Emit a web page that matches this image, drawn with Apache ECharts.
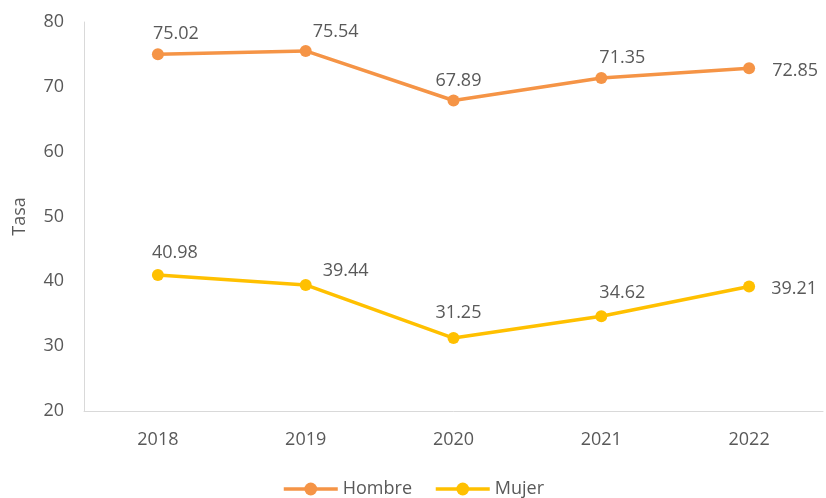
<!DOCTYPE html>
<html>
<head>
<meta charset="utf-8">
<script src="https://cdn.jsdelivr.net/npm/echarts@6/dist/echarts.min.js"></script>
<style>
  html, body { margin: 0; padding: 0; background: #ffffff; }
  #chart { width: 826px; height: 498px; }
</style>
</head>
<body>
<div id="chart"></div>
<script>
// Tasa por sexo, 2018-2022
const years = ['2018', '2019', '2020', '2021', '2022'];
const hombre = [75.02, 75.54, 67.89, 71.35, 72.85];
const mujer = [40.98, 39.44, 31.25, 34.62, 39.21];

// label placement per point: [offsetX, offsetY]
const hombreLabelOffsets = [[18, -5], [30, -4], [5, -5], [21, -5], [46, 18]];
const mujerLabelOffsets = [[17, -7], [40, 1], [5, -10], [21, -8], [45, 17]];

const textColor = '#595959';
const fontFamily = '"Open Sans", "Liberation Sans", sans-serif';
const fontSize = 18;

function withLabels(values, offsets) {
  return values.map((v, i) => ({
    value: v,
    label: { offset: offsets[i] }
  }));
}

function lineSeries(name, values, offsets, color) {
  return {
    name: name,
    type: 'line',
    data: withLabels(values, offsets),
    symbol: 'circle',
    symbolSize: 12,
    color: color,
    lineStyle: { width: 3.5, color: color },
    itemStyle: { color: color },
    label: {
      show: true,
      position: 'top',
      distance: 0,
      color: textColor,
      fontSize: fontSize,
      fontFamily: fontFamily,
      formatter: p => p.value.toFixed(2)
    }
  };
}

const chart = echarts.init(document.getElementById('chart'), null, { renderer: 'canvas' });
chart.setOption({
  animation: false,
  textStyle: { fontFamily: fontFamily },
  grid: { left: 84, right: 3, top: 22, bottom: 87 },
  legend: {
    top: 475,
    left: 'center',
    itemWidth: 54,
    itemHeight: 16,
    itemGap: 22,
    lineStyle: { width: 3.5 },
    textStyle: { color: textColor, fontSize: fontSize, fontFamily: fontFamily },
    data: ['Hombre', 'Mujer']
  },
  xAxis: {
    type: 'category',
    data: years,
    boundaryGap: true,
    axisLine: { lineStyle: { color: '#d9d9d9', width: 1 } },
    axisTick: { show: false },
    axisLabel: { color: textColor, fontSize: fontSize, margin: 20, fontFamily: fontFamily }
  },
  yAxis: {
    type: 'value',
    min: 20,
    max: 80,
    interval: 10,
    name: 'Tasa',
    nameLocation: 'middle',
    nameGap: 55,
    nameTextStyle: { color: textColor, fontSize: fontSize, fontFamily: fontFamily },
    axisLine: { show: true, lineStyle: { color: '#d9d9d9', width: 1 } },
    axisTick: { show: false },
    splitLine: { show: false },
    axisLabel: { color: textColor, fontSize: fontSize, margin: 20, fontFamily: fontFamily }
  },
  series: [
    lineSeries('Hombre', hombre, hombreLabelOffsets, '#F59446'),
    lineSeries('Mujer', mujer, mujerLabelOffsets, '#FFC000')
  ]
});
</script>
</body>
</html>
